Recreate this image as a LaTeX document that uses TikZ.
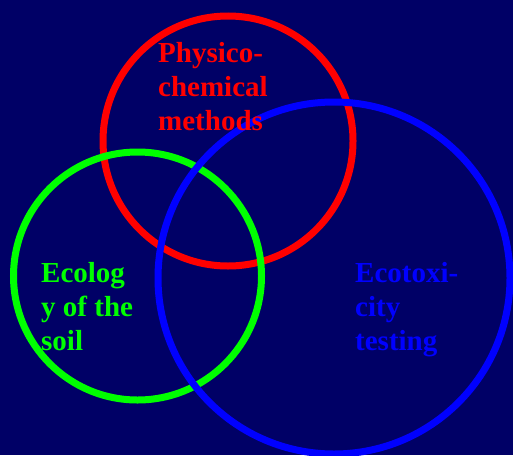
\documentclass[tikz,border=0pt]{standalone}
\usepackage{fontspec}
\setmainfont{Liberation Serif}
\definecolor{bgnavy}{RGB}{0,0,102}
\definecolor{lgreen}{RGB}{0,255,0}
\definecolor{pred}{RGB}{255,0,0}
\definecolor{pblue}{RGB}{0,0,255}
\begin{document}
\begin{tikzpicture}[x=1pt,y=-1pt,
  ring/.style={line width=7pt},
  lbl/.style={anchor=base west,align=left,inner sep=0pt,font=\fontsize{29}{34}\selectfont\bfseries}]
\fill[bgnavy] (0,0) rectangle (513,455);
\useasboundingbox (0,0) rectangle (513,455);
\draw[ring,pred] (228,141) circle (125);
\draw[ring,lgreen] (137.5,276) circle (124);
\draw[ring,pblue] (334,278) circle (176);
\node[lbl,text=pred] (phys) at (158,130) {Physico-\\chemical\\methods};
\node[lbl,text=lgreen] (eco) at (41,350) {Ecolog\\y of the\\soil};
\node[lbl,text=pblue] (tox) at (355,350) {Ecotoxi-\\city\\testing};
\end{tikzpicture}
\end{document}
